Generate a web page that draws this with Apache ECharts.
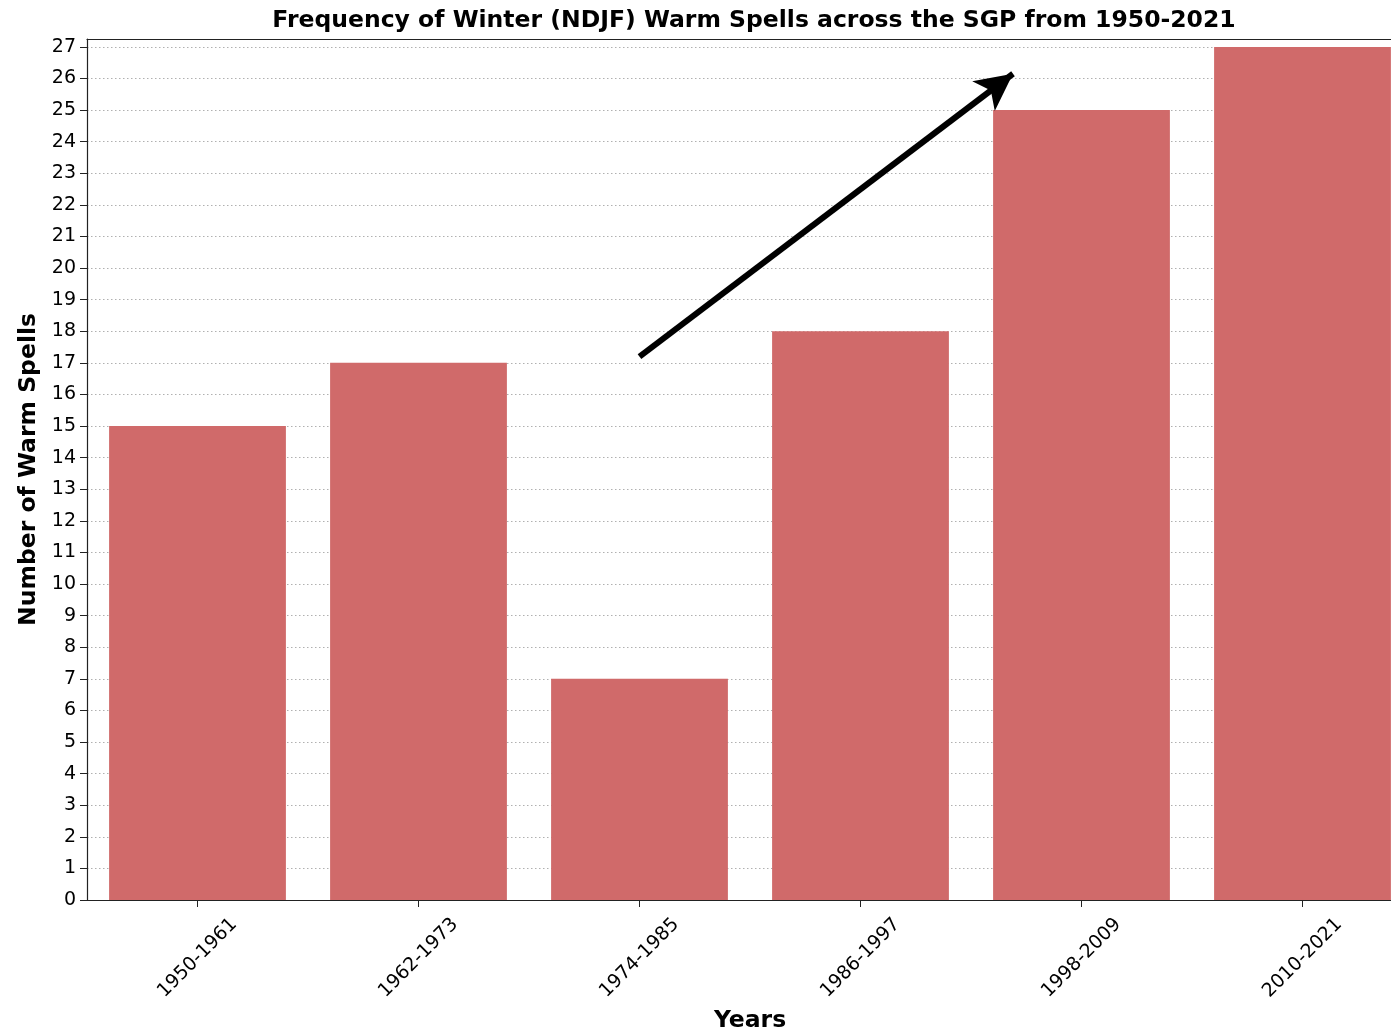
<!DOCTYPE html>
<html><head><meta charset="utf-8">
<script src="https://cdn.jsdelivr.net/npm/echarts@6/dist/echarts.min.js"></script>
<style>html,body{margin:0;padding:0;background:#fff}#c{width:1391px;height:1033px}</style>
</head><body><div id="c"></div>
<script>
const categories = ['1950-1961','1962-1973','1974-1985','1986-1997','1998-2009','2010-2021'];
const warmSpells = [15, 17, 7, 18, 25, 27];
const arrowStart = [2, 17.2];
const arrowEnd = [3.69, 26.15];
const yMax = 27.25;

const font = 'DejaVu Sans';
const chart = echarts.init(document.getElementById('c'), null, {renderer:'canvas'});
chart.setOption({
  animation: false,
  backgroundColor: '#fff',
  title: {
    text: 'Frequency of Winter (NDJF) Warm Spells across the SGP from 1950-2021',
    left: 749, top: 4, textAlign: 'center',
    textStyle: {fontFamily: font, fontWeight: 'bold', fontSize: 23.5, color: '#000'}
  },
  grid: {left: 87, top: 39, height: 861, width: 1326, outerBoundsMode: 'none', containLabel: false},
  xAxis: [{
    type: 'category', data: categories, position: 'bottom',
    axisLine: {show: true, onZero: false, lineStyle: {color: '#222', width: 1.2}},
    axisTick: {show: true, alignWithLabel: true, length: 7, lineStyle: {color: '#222'}},
    axisLabel: {rotate: 45, align: 'center', verticalAlign: 'middle', margin: 58,
      fontFamily: font, fontSize: 19, color: '#000'},
    name: 'Years', nameLocation: 'middle', nameGap: 109,
    nameTextStyle: {fontFamily: font, fontWeight: 'bold', fontSize: 23.5, color: '#000'}
  }, {
    type: 'category', data: categories, position: 'top',
    axisLine: {show: true, onZero: false, lineStyle: {color: '#222', width: 1.2}},
    axisTick: {show: false}, axisLabel: {show: false}
  }, {
    type: 'value', min: -0.5, max: 5.5, show: false
  }],
  yAxis: {
    type: 'value', min: 0, max: yMax, interval: 1,
    axisLine: {show: true, onZero: false, lineStyle: {color: '#222', width: 1.2}},
    axisTick: {show: true, length: 7, lineStyle: {color: '#222'}},
    axisLabel: {fontFamily: font, fontSize: 19, color: '#000', margin: 11, showMaxLabel: false,
      formatter: v => Number.isInteger(v) ? String(v) : ''},
    splitLine: {show: true, lineStyle: {color: '#b0b0b0', type: [1.5, 2.5], width: 1}},
    name: 'Number of Warm Spells', nameLocation: 'middle', nameGap: 46,
    nameTextStyle: {fontFamily: font, fontWeight: 'bold', fontSize: 23.5, color: '#000'}
  },
  series: [{
    type: 'bar', xAxisIndex: 0, data: warmSpells, barWidth: '80%',
    itemStyle: {color: 'rgb(208,106,106)'}
  }, {
    type: 'line', xAxisIndex: 2, data: [], symbol: 'none',
    markLine: {
      silent: true, animation: false,
      symbol: ['none', 'arrow'], symbolSize: [28, 37],
      label: {show: false},
      lineStyle: {color: '#000', width: 6, type: 'solid'},
      data: [[{coord: arrowStart}, {coord: arrowEnd}]]
    }
  }]
});
</script></body></html>
